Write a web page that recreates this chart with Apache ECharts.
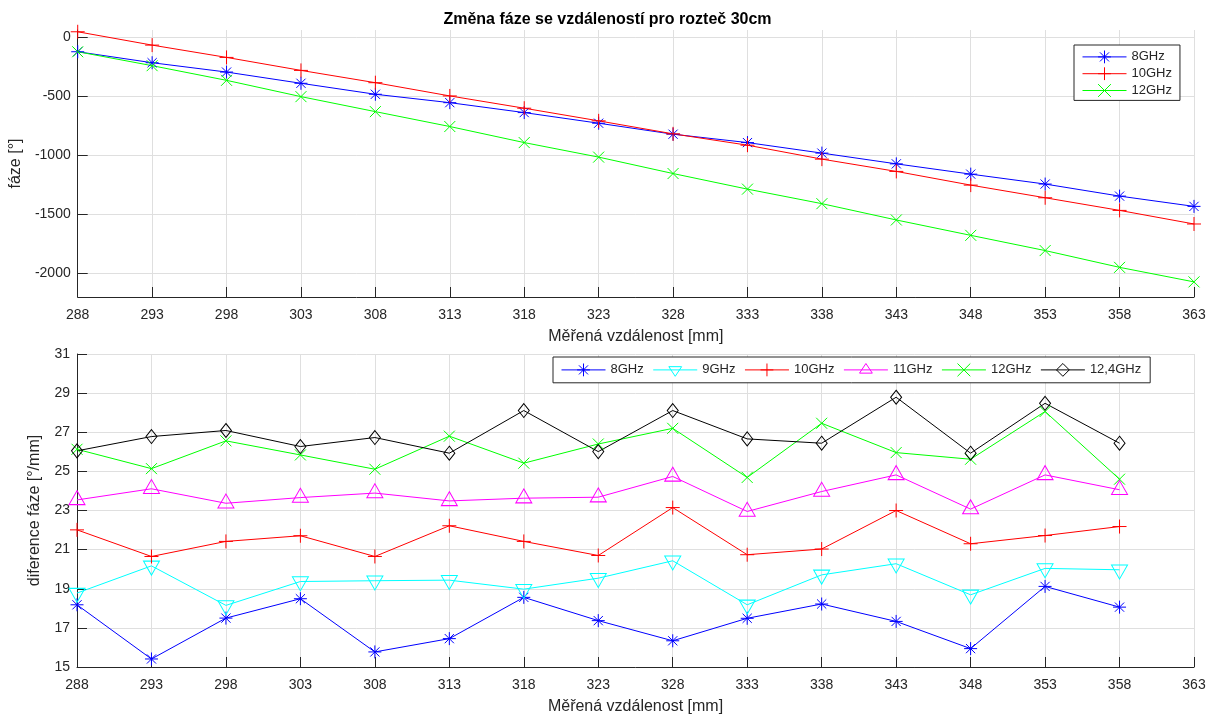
<!DOCTYPE html>
<html>
<head>
<meta charset="utf-8">
<script src="https://cdn.jsdelivr.net/npm/echarts@6.0.0/dist/echarts.min.js"></script>
<style>
  html, body { margin: 0; padding: 0; background: #fff; }
  #chart { width: 1215px; height: 718px; }
</style>
</head>
<body>
<div id="chart"></div>
<script>
// x positions (mm)
const xTop = [288, 293, 298, 303, 308, 313, 318, 323, 328, 333, 338, 343, 348, 353, 358, 363];
const xBottom = [288, 293, 298, 303, 308, 313, 318, 323, 328, 333, 338, 343, 348, 353, 358];
const yTopTicks = [-2000, -1500, -1000, -500, 0];

// faze [deg]
const phase8 = [-124, -217, -296, -391, -484, -555, -639, -729, -822, -893, -982, -1073, -1160, -1244, -1346, -1433];
const phase10 = [45, -68, -172, -282, -386, -498, -602, -709, -819, -915, -1033, -1137, -1253, -1360, -1467, -1582];
const phase12 = [-124, -242, -366, -504, -631, -757, -893, -1016, -1155, -1287, -1410, -1548, -1678, -1807, -1949, -2072];

// diference faze [deg/mm]
const diff8 = [18.18, 15.41, 17.5, 18.49, 15.77, 16.45, 18.56, 17.37, 16.34, 17.49, 18.22, 17.33, 15.94, 19.12, 18.06];
const diff9 = [18.78, 20.17, 18.15, 19.37, 19.41, 19.44, 18.98, 19.54, 20.43, 18.18, 19.71, 20.28, 18.69, 20.04, 19.97];
const diff10 = [22.01, 20.65, 21.42, 21.71, 20.65, 22.22, 21.42, 20.7, 23.15, 20.74, 21.03, 23.0, 21.3, 21.72, 22.18];
const diff11 = [23.54, 24.11, 23.37, 23.66, 23.89, 23.49, 23.63, 23.68, 24.74, 22.95, 23.97, 24.82, 23.07, 24.82, 24.06];
const diff12 = [26.13, 25.14, 26.56, 25.84, 25.11, 26.8, 25.42, 26.4, 27.2, 24.69, 27.46, 25.96, 25.62, 28.06, 24.6];
const diff124 = [26.05, 26.78, 27.09, 26.27, 26.73, 25.93, 28.11, 26.01, 28.11, 26.66, 26.44, 28.79, 25.93, 28.48, 26.44];

const font = '"Liberation Sans", Arial, sans-serif';
const axisCol = '#262626';
const gridCol = '#dfdfdf';

// barva + znacka pro kazdou frekvenci
const styles = {
  '8GHz': ['#0000ff', 'star'],
  '9GHz': ['#00ffff', 'triDown'],
  '10GHz': ['#ff0000', 'plus'],
  '11GHz': ['#ff00ff', 'triUp'],
  '12GHz': ['#00ff00', 'cross'],
  '12,4GHz': ['#000000', 'diamond']
};

// MATLAB-like markers (unfilled)
const mk = {
  star: ['path://M0,-6.5L0,6.5M-6.5,0L6.5,0M-4.6,-4.6L4.6,4.6M-4.6,4.6L4.6,-4.6', [13, 13]],
  plus: ['path://M0,-7L0,7M-7,0L7,0', [14, 14]],
  cross: ['path://M-5.5,-5.5L5.5,5.5M-5.5,5.5L5.5,-5.5', [11, 11]],
  triUp: ['path://M0,-9.3L8,4.7L-8,4.7ZM0,9.3', [16, 18.6]],
  triDown: ['path://M0,9.3L8,-4.7L-8,-4.7ZM0,-9.3', [16, 18.6]],
  diamond: ['path://M0,-7L5.5,0L0,7L-5.5,0Z', [11, 14]]
};

function pairs(xs, ys) {
  return xs.map((x, i) => [x, ys[i]]);
}

function line(name, xs, ys, idx) {
  const color = styles[name][0];
  const marker = styles[name][1];
  return {
    name: name,
    type: 'line',
    xAxisIndex: idx,
    yAxisIndex: idx,
    data: pairs(xs, ys),
    symbol: mk[marker][0],
    symbolSize: mk[marker][1],
    showAllSymbol: true,
    lineStyle: { color: color, width: 1 },
    itemStyle: { color: 'rgba(0,0,0,0)', borderColor: color, borderWidth: 1 },
    emphasis: { disabled: true },
    animation: false
  };
}

function legendItem(name) {
  const color = styles[name][0];
  return {
    name: name,
    lineStyle: { color: color, width: 1 },
    itemStyle: { color: 'rgba(0,0,0,0)', borderColor: color, borderWidth: 1 }
  };
}

function xAxis(idx) {
  return {
    type: 'value',
    gridIndex: idx,
    min: 288,
    max: 363,
    interval: 5,
    name: 'Měřená vzdálenost [mm]',
    nameLocation: 'middle',
    nameGap: 32,
    nameTextStyle: { fontFamily: font, fontSize: 16, color: axisCol },
    axisLine: { onZero: false, lineStyle: { color: axisCol, width: 1 } },
    axisTick: { inside: true, length: 10, lineStyle: { color: axisCol } },
    axisLabel: { fontFamily: font, fontSize: 14, color: axisCol, margin: 11 },
    splitLine: { show: true, lineStyle: { color: gridCol, width: 1 } }
  };
}

function legendBase() {
  return {
    itemWidth: 44,
    itemHeight: 16,
    borderColor: axisCol,
    borderWidth: 1,
    backgroundColor: '#fff',
    textStyle: { fontFamily: font, fontSize: 13, color: axisCol }
  };
}

const chart = echarts.init(document.getElementById('chart'));
chart.setOption({
  backgroundColor: '#fff',
  title: {
    text: 'Změna fáze se vzdáleností pro rozteč 30cm',
    left: 'center',
    top: 7,
    textStyle: { fontFamily: font, fontSize: 16, fontWeight: 'bold', color: '#000' }
  },
  grid: [
    { left: 77, right: 21, top: 30, height: 267 },
    { left: 77, right: 21, top: 354, height: 313 }
  ],
  legend: [
    Object.assign(legendBase(), {
      data: ['8GHz', '10GHz', '12GHz'].map(legendItem),
      orient: 'vertical',
      left: 1074,
      top: 45,
      itemGap: 3,
      padding: [5, 8, 3, 8]
    }),
    Object.assign(legendBase(), {
      data: ['8GHz', '9GHz', '10GHz', '11GHz', '12GHz', '12,4GHz'].map(legendItem),
      orient: 'horizontal',
      left: 553,
      top: 357,
      itemGap: 9,
      padding: [6, 9, 6, 8]
    })
  ],
  xAxis: [xAxis(0), xAxis(1)],
  yAxis: [
    {
      type: 'value',
      gridIndex: 0,
      min: -2200,
      max: 60,
      name: 'fáze [°]',
      nameLocation: 'middle',
      nameGap: 45,
      nameTextStyle: { fontFamily: font, fontSize: 16, color: axisCol },
      axisLine: { show: true, onZero: false, lineStyle: { color: axisCol, width: 1 } },
      axisTick: { show: true, inside: true, length: 10, lineStyle: { color: axisCol }, customValues: yTopTicks },
      axisLabel: {
        fontFamily: font, fontSize: 14, color: axisCol, margin: 7, customValues: yTopTicks,
        formatter: v => String(v)
      },
      splitLine: { show: true, lineStyle: { color: gridCol, width: 1 } }
    },
    {
      type: 'value',
      gridIndex: 1,
      min: 15,
      max: 31,
      interval: 2,
      name: 'diference fáze [°/mm]',
      nameLocation: 'middle',
      nameGap: 34,
      nameTextStyle: { fontFamily: font, fontSize: 16, color: axisCol },
      axisLine: { show: true, onZero: false, lineStyle: { color: axisCol, width: 1 } },
      axisTick: { show: true, inside: true, length: 10, lineStyle: { color: axisCol } },
      axisLabel: { fontFamily: font, fontSize: 14, color: axisCol, margin: 7 },
      splitLine: { show: true, lineStyle: { color: gridCol, width: 1 } }
    }
  ],
  series: [
    line('8GHz', xTop, phase8, 0),
    line('10GHz', xTop, phase10, 0),
    line('12GHz', xTop, phase12, 0),
    line('8GHz', xBottom, diff8, 1),
    line('9GHz', xBottom, diff9, 1),
    line('10GHz', xBottom, diff10, 1),
    line('11GHz', xBottom, diff11, 1),
    line('12GHz', xBottom, diff12, 1),
    line('12,4GHz', xBottom, diff124, 1)
  ]
});
</script>
</body>
</html>
